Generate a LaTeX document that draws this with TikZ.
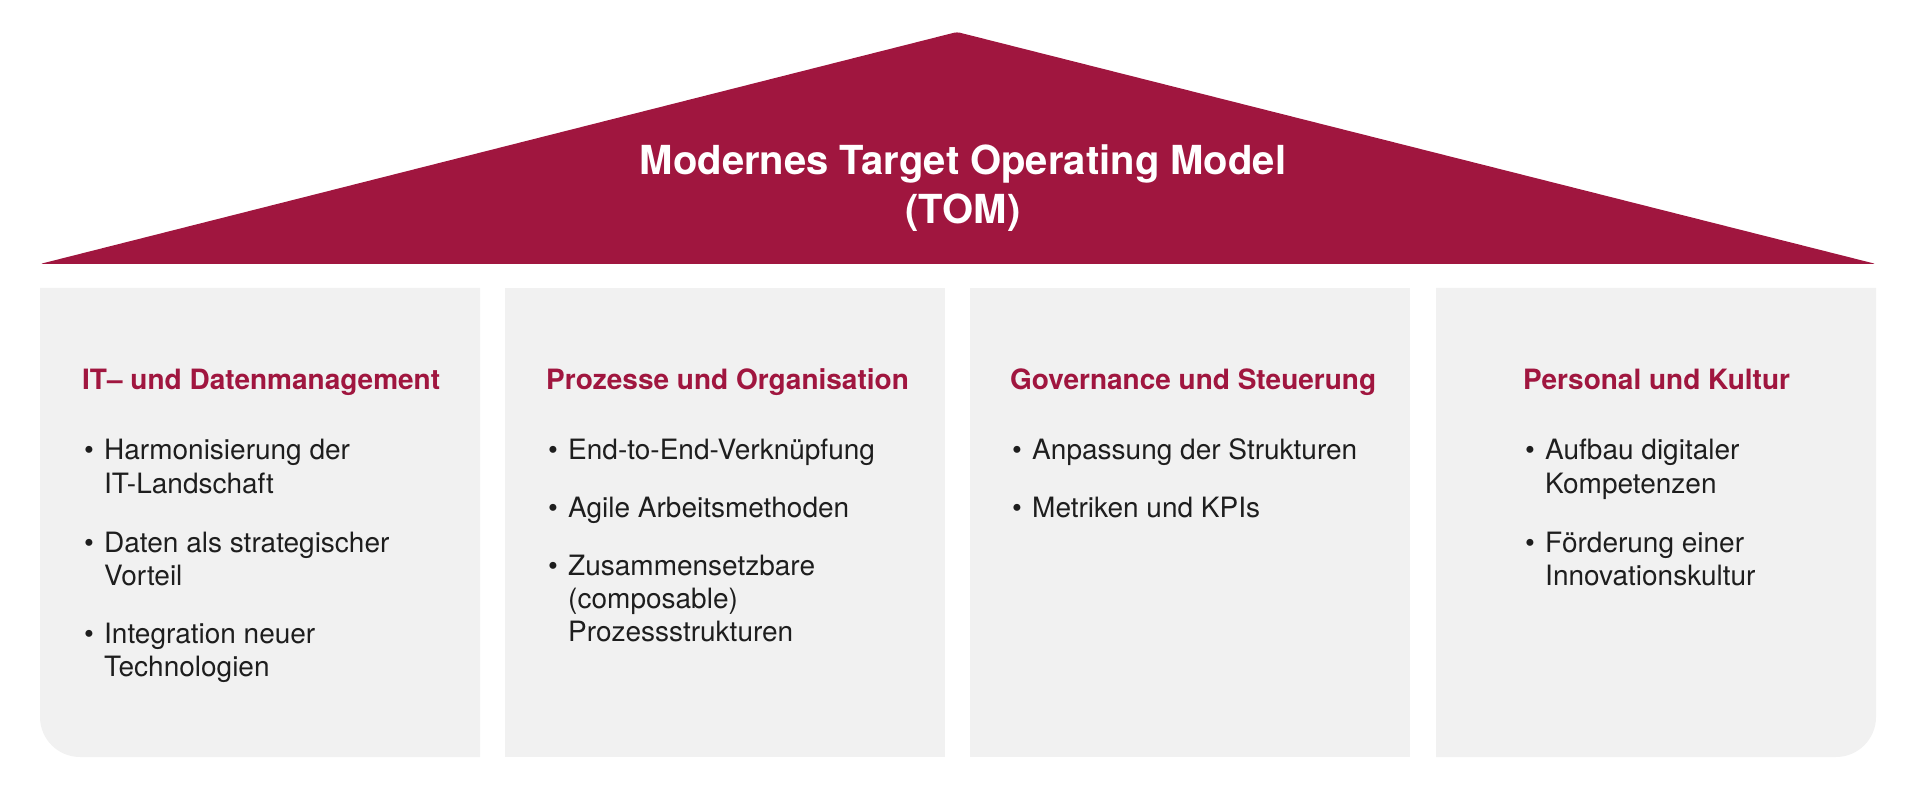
\documentclass[tikz,border=0pt]{standalone}
\usepackage{fontspec}
\setmainfont{TeX Gyre Heros}
\definecolor{tomred}{HTML}{A0163F}
\definecolor{pillargray}{HTML}{F1F1F1}
\definecolor{bodytext}{HTML}{1E1E1E}
\newcommand{\itm}[1]{\makebox[22pt][l]{\hspace{2pt}\textbullet}\begin{tabular}[t]{@{}l@{}}#1\end{tabular}}
\begin{document}
\begin{tikzpicture}[x=1pt,y=-1pt,
  roof/.style={fill=tomred, rounded corners=3pt},
  pillar/.style={fill=pillargray},
  title/.style={text=white, align=center, font=\fontsize{40}{49}\selectfont\bfseries},
  head/.style={anchor=base west, inner sep=0pt, text=tomred, font=\fontsize{28}{33}\selectfont\bfseries},
  item/.style={anchor=base west, inner sep=0pt, text=bodytext, font=\fontsize{28}{33}\selectfont}]
\useasboundingbox (0,0) rectangle (1920,791);

\fill[roof] (40,264) -- (957,32) -- (1876,264) -- cycle;
\fill[pillar] (480,288) -- (40,288) -- (40,717) arc[start angle=180, end angle=90, radius=40] -- (480,757) -- cycle;
\fill[pillar] (505,288) rectangle (945,757);
\fill[pillar] (970,288) rectangle (1410,757);
\fill[pillar] (1436,288) -- (1876,288) -- (1876,717) arc[start angle=0, end angle=90, radius=40] -- (1436,757) -- cycle;

\node[title] (tom) at (963,188) {Modernes Target Operating Model\\(TOM)};

\node[head] (h1) at (82,390) {IT– und Datenmanagement};
\node[item] (i11) at (82,460) {\itm{Harmonisierung der\\IT-Landschaft}};
\node[item] (i12) at (82,552) {\itm{Daten als strategischer\\Vorteil}};
\node[item] (i13) at (82,643) {\itm{Integration neuer\\Technologien}};

\node[head] (h2) at (546,390) {Prozesse und Organisation};
\node[item] (i21) at (546,460) {\itm{End-to-End-Verknüpfung}};
\node[item] (i22) at (546,517) {\itm{Agile Arbeitsmethoden}};
\node[item] (i23) at (546,575) {\itm{Zusammensetzbare\\(composable)\\Prozessstrukturen}};

\node[head] (h3) at (1010,390) {Governance und Steuerung};
\node[item] (i31) at (1010,460) {\itm{Anpassung der Strukturen}};
\node[item] (i32) at (1010,517) {\itm{Metriken und KPIs}};

\node[head] (h4) at (1523,390) {Personal und Kultur};
\node[item] (i41) at (1523,460) {\itm{Aufbau digitaler\\Kompetenzen}};
\node[item] (i42) at (1523,552) {\itm{Förderung einer\\Innovationskultur}};
\end{tikzpicture}
\end{document}
